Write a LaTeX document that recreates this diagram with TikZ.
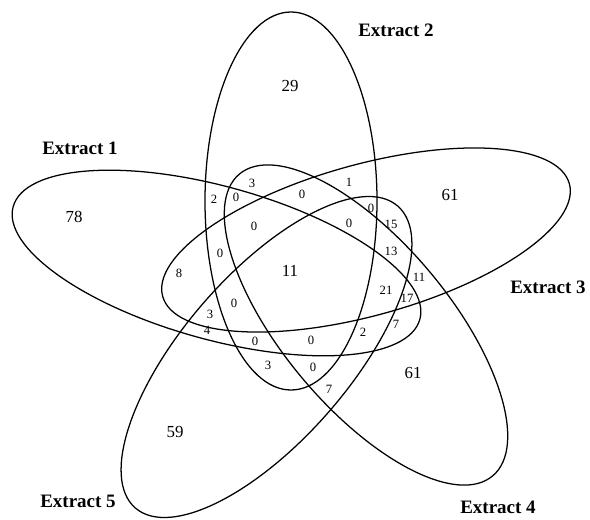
\documentclass[tikz,border=0pt]{standalone}
\usepackage{fontspec}
\setmainfont{Liberation Serif}
\usepackage{tikz}

\tikzset{
	setname/.style={font=\fontsize{13.5}{15}\selectfont\bfseries},
	bigcnt/.style={font=\fontsize{12}{14}\selectfont},
	cnt/.style={font=\fontsize{9}{10}\selectfont, inner sep=0pt},
}

\begin{document}
\begin{tikzpicture}[x=0.025cm, y=-0.025cm, line width=0.9pt]
	\useasboundingbox (0, 0) rectangle (590, 519);
	\draw [rotate around={-15.5:(216.5, 263)}] (216.5, 263) ellipse [x radius=211, y radius=76.5];
	\draw (291, 201) ellipse [x radius=86, y radius=189];
	\draw [rotate around={15.5:(366, 240)}] (366, 240) ellipse [x radius=211, y radius=75.5];
	\draw [rotate around={-50:(366, 325)}] (366, 325) ellipse [x radius=197, y radius=83];
	\draw [rotate around={49:(266.5, 357)}] (266.5, 357) ellipse [x radius=200, y radius=83];
	\node (ext1) at (80, 148) [setname] {Extract 1};
	\node (ext2) at (396, 30) [setname] {Extract 2};
	\node (ext3) at (548, 287) [setname] {Extract 3};
	\node (ext4) at (498, 507) [setname] {Extract 4};
	\node (ext5) at (78, 501) [setname] {Extract 5};
	\node (only1) at (74, 217) [bigcnt] {78};
	\node (only2) at (290, 86) [bigcnt] {29};
	\node (only3) at (450, 195) [bigcnt] {61};
	\node (only4) at (413, 373) [bigcnt] {61};
	\node (only5) at (175, 432) [bigcnt] {59};
	\node (all) at (290, 271) [bigcnt] {11};
	\node (r1) at (252, 183) [cnt] {3};
	\node (r2) at (349, 182) [cnt] {1};
	\node (r3) at (214, 199) [cnt] {2};
	\node (r4) at (236, 197) [cnt] {0};
	\node (r5) at (302, 194) [cnt] {0};
	\node (r6) at (371, 208) [cnt] {0};
	\node (r7) at (391, 224) [cnt] {15};
	\node (r8) at (254, 226) [cnt] {0};
	\node (r9) at (349, 223) [cnt] {0};
	\node (r10) at (391, 251) [cnt] {13};
	\node (r11) at (220, 253) [cnt] {0};
	\node (r12) at (179, 273) [cnt] {8};
	\node (r13) at (419, 277) [cnt] {11};
	\node (r14) at (386, 290) [cnt] {21};
	\node (r15) at (407, 298) [cnt] {17};
	\node (r16) at (234, 303) [cnt] {0};
	\node (r17) at (210, 314) [cnt] {3};
	\node (r18) at (396, 324) [cnt] {7};
	\node (r19) at (207, 330) [cnt] {4};
	\node (r20) at (363, 332) [cnt] {2};
	\node (r21) at (255, 341) [cnt] {0};
	\node (r22) at (311, 340) [cnt] {0};
	\node (r23) at (268, 365) [cnt] {3};
	\node (r24) at (313, 367) [cnt] {0};
	\node (r25) at (329, 389) [cnt] {7};
\end{tikzpicture}
\end{document}
